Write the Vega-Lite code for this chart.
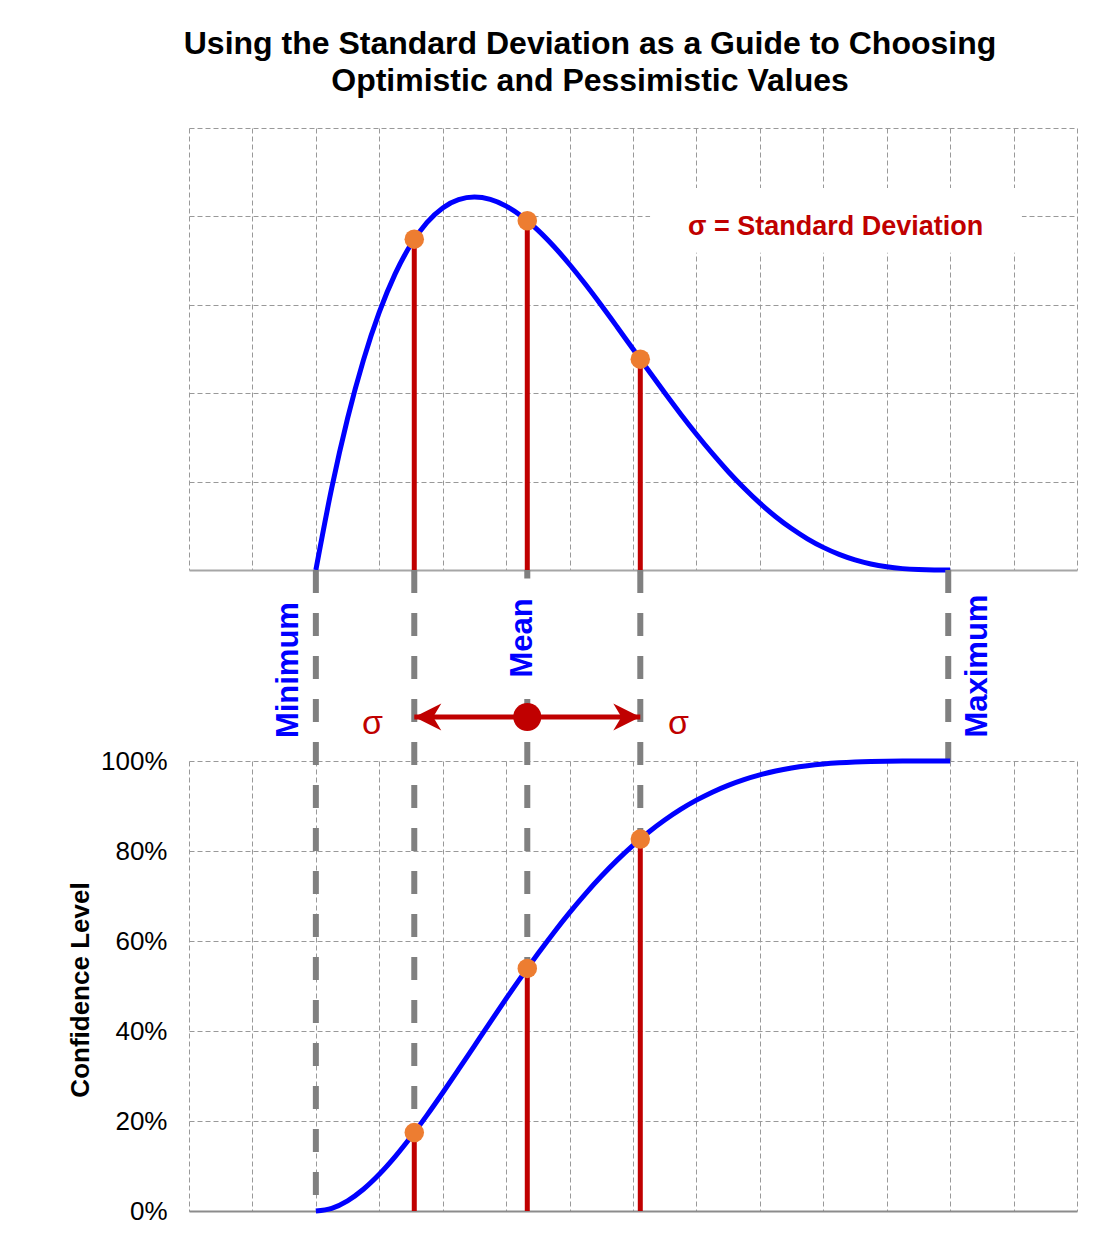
{
  "$schema": "https://vega.github.io/schema/vega-lite/v6.json",
  "background": "white",
  "padding": {"left": 67, "top": 28, "right": 31, "bottom": 39},
  "title": {
    "text": ["Using the Standard Deviation as a Guide to Choosing", "Optimistic and Pessimistic Values"],
    "font": "Liberation Sans",
    "fontSize": 32,
    "fontWeight": "bold",
    "color": "#000000",
    "lineHeight": 37,
    "anchor": "middle",
    "dx": 18,
    "offset": 30
  },
  "config": {
    "view": {"stroke": null},
    "font": "Liberation Sans",
    "concat": {"spacing": 0}
  },
  "spacing": 0,
  "bounds": "flush",
  "datasets": {
    "pdf": [
      {"x": 2.0, "density": 0},
      {"x": 2.25, "density": 0.46343},
      {"x": 2.5, "density": 0.857375},
      {"x": 2.75, "density": 1.18718},
      {"x": 3.0, "density": 1.458},
      {"x": 3.25, "density": 1.674805},
      {"x": 3.5, "density": 1.842375},
      {"x": 3.75, "density": 1.965306},
      {"x": 4.0, "density": 2.048},
      {"x": 4.25, "density": 2.094678},
      {"x": 4.5, "density": 2.109375},
      {"x": 4.75, "density": 2.095929},
      {"x": 5.0, "density": 2.058},
      {"x": 5.25, "density": 1.999056},
      {"x": 5.5, "density": 1.922375},
      {"x": 5.75, "density": 1.831055},
      {"x": 6.0, "density": 1.728},
      {"x": 6.25, "density": 1.61593},
      {"x": 6.5, "density": 1.497375},
      {"x": 6.75, "density": 1.374681},
      {"x": 7.0, "density": 1.25},
      {"x": 7.25, "density": 1.125306},
      {"x": 7.5, "density": 1.002375},
      {"x": 7.75, "density": 0.882809},
      {"x": 8.0, "density": 0.768},
      {"x": 8.25, "density": 0.65918},
      {"x": 8.5, "density": 0.557375},
      {"x": 8.75, "density": 0.46343},
      {"x": 9.0, "density": 0.378},
      {"x": 9.25, "density": 0.301556},
      {"x": 9.5, "density": 0.234375},
      {"x": 9.75, "density": 0.176555},
      {"x": 10.0, "density": 0.128},
      {"x": 10.25, "density": 0.08843},
      {"x": 10.5, "density": 0.057375},
      {"x": 10.75, "density": 0.03418},
      {"x": 11.0, "density": 0.018},
      {"x": 11.25, "density": 0.007805},
      {"x": 11.5, "density": 0.002375},
      {"x": 11.75, "density": 0.000305},
      {"x": 12.0, "density": 0}
    ],
    "cdf": [
      {"x": 2.0, "confidence": 0},
      {"x": 2.25, "confidence": 0.005943},
      {"x": 2.5, "confidence": 0.022593},
      {"x": 2.75, "confidence": 0.048278},
      {"x": 3.0, "confidence": 0.08146},
      {"x": 3.25, "confidence": 0.120727},
      {"x": 3.5, "confidence": 0.16479},
      {"x": 3.75, "confidence": 0.212475},
      {"x": 4.0, "confidence": 0.26272},
      {"x": 4.25, "confidence": 0.314575},
      {"x": 4.5, "confidence": 0.367188},
      {"x": 4.75, "confidence": 0.419808},
      {"x": 5.0, "confidence": 0.47178},
      {"x": 5.25, "confidence": 0.522534},
      {"x": 5.5, "confidence": 0.571586},
      {"x": 5.75, "confidence": 0.61853},
      {"x": 6.0, "confidence": 0.66304},
      {"x": 6.25, "confidence": 0.704855},
      {"x": 6.5, "confidence": 0.743783},
      {"x": 6.75, "confidence": 0.77969},
      {"x": 7.0, "confidence": 0.8125},
      {"x": 7.25, "confidence": 0.842188},
      {"x": 7.5, "confidence": 0.868781},
      {"x": 7.75, "confidence": 0.892337},
      {"x": 8.0, "confidence": 0.91296},
      {"x": 8.25, "confidence": 0.930786},
      {"x": 8.5, "confidence": 0.945977},
      {"x": 8.75, "confidence": 0.958721},
      {"x": 9.0, "confidence": 0.96922},
      {"x": 9.25, "confidence": 0.977695},
      {"x": 9.5, "confidence": 0.984375},
      {"x": 9.75, "confidence": 0.989492},
      {"x": 10.0, "confidence": 0.99328},
      {"x": 10.25, "confidence": 0.995967},
      {"x": 10.5, "confidence": 0.997772},
      {"x": 10.75, "confidence": 0.998901},
      {"x": 11.0, "confidence": 0.99954},
      {"x": 11.25, "confidence": 0.999851},
      {"x": 11.5, "confidence": 0.99997},
      {"x": 11.75, "confidence": 0.999998},
      {"x": 12.0, "confidence": 1.0}
    ],
    "sigma": [
      {"name": "Mean - σ", "x": 3.5516, "density": 1.87126, "confidence": 0.174374, "base": 0},
      {"name": "Mean", "x": 5.3333, "density": 1.97531, "confidence": 0.539095, "base": 0},
      {"name": "Mean + σ", "x": 7.115, "density": 1.19253, "confidence": 0.826542, "base": 0}
    ],
    "guides": [
      {"name": "Minimum", "x": 2.0, "confidence": 0, "top": 1},
      {"name": "Mean - σ", "x": 3.5516, "confidence": 0.174374, "top": 1},
      {"name": "Mean", "x": 5.3333, "confidence": 0.539095, "top": 1},
      {"name": "Mean + σ", "x": 7.115, "confidence": 0.826542, "top": 1},
      {"name": "Maximum", "x": 11.97, "confidence": 1.0, "top": 1}
    ],
    "guideLabels": [
      {"label": "Minimum", "x": 1.572, "y": 0.476},
      {"label": "Mean", "x": 5.261, "y": 0.644},
      {"label": "Maximum", "x": 12.434, "y": 0.497}
    ],
    "sigmaLabels": [
      {"label": "σ", "x": 2.893, "y": 0.1414},
      {"label": "σ", "x": 7.717, "y": 0.1414}
    ],
    "arrow": [
      {"end": "left", "x": 3.765, "y": 0.2304},
      {"end": "right", "x": 6.902, "y": 0.2304}
    ]
  },
  "vconcat": [
    {
      "width": 888,
      "height": 442,
      "layer": [
        {
          "data": {"name": "pdf"},
          "mark": {"type": "line", "color": "#0000FF", "strokeWidth": 5, "interpolate": "monotone"},
          "encoding": {
            "x": {
              "field": "x", "type": "quantitative",
              "scale": {"domain": [0, 14], "nice": false, "zero": false},
              "axis": {"values": [0,1,2,3,4,5,6,7,8,9,10,11,12,13,14], "grid": true, "gridColor": "#999999", "gridDash": [5, 3], "gridWidth": 1, "labels": false, "ticks": false, "domain": true, "domainColor": "#a6a6a6", "domainWidth": 2, "title": null}
            },
            "y": {
              "field": "density", "type": "quantitative",
              "scale": {"domain": [0, 2.5], "nice": false, "zero": false},
              "axis": {"values": [0.5, 1, 1.5, 2, 2.5], "grid": true, "gridColor": "#999999", "gridDash": [5, 3], "gridWidth": 1, "labels": false, "ticks": false, "domain": false, "title": null}
            }
          }
        },
        {
          "data": {"name": "sigma"},
          "mark": {"type": "rule", "color": "#C00000", "strokeWidth": 5},
          "encoding": {
            "x": {"field": "x", "type": "quantitative"},
            "y": {"field": "density", "type": "quantitative"},
            "y2": {"field": "base"}
          }
        },
        {
          "data": {"name": "sigma"},
          "mark": {"type": "circle", "color": "#ED7D31", "opacity": 1, "size": 380},
          "encoding": {
            "x": {"field": "x", "type": "quantitative"},
            "y": {"field": "density", "type": "quantitative"}
          }
        },
        {
          "data": {"values": [{"x": 7.27, "x2": 13.13, "y": 2.16, "y2": 1.795}]},
          "mark": {"type": "rect", "color": "white", "opacity": 1},
          "encoding": {
            "x": {"field": "x", "type": "quantitative"},
            "x2": {"field": "x2"},
            "y": {"field": "y", "type": "quantitative"},
            "y2": {"field": "y2"}
          }
        },
        {
          "data": {"values": [{"label": "σ = Standard Deviation", "x": 7.867, "y": 1.895}]},
          "mark": {"type": "text", "color": "#C00000", "fontSize": 27, "fontWeight": "bold", "align": "left", "baseline": "alphabetic"},
          "encoding": {
            "x": {"field": "x", "type": "quantitative"},
            "y": {"field": "y", "type": "quantitative"},
            "text": {"field": "label", "type": "nominal"}
          }
        }
      ]
    },
    {
      "width": 888,
      "height": 191,
      "layer": [
        {
          "data": {"name": "guides"},
          "mark": {"type": "rule", "color": "#808080", "strokeWidth": 6, "strokeDash": [23, 20]},
          "encoding": {
            "x": {"field": "x", "type": "quantitative", "scale": {"domain": [0, 14], "nice": false, "zero": false}, "axis": null}
          }
        },
        {
          "data": {"values": [{"x": 4.9, "x2": 5.62, "y": 0.955, "y2": 0.36}]},
          "mark": {"type": "rect", "color": "white", "opacity": 1},
          "encoding": {
            "x": {"field": "x", "type": "quantitative"},
            "x2": {"field": "x2"},
            "y": {"field": "y", "type": "quantitative", "scale": {"domain": [0, 1], "nice": false, "zero": false}, "axis": null},
            "y2": {"field": "y2"}
          }
        },
        {
          "data": {"name": "guideLabels"},
          "mark": {"type": "text", "angle": 270, "fontSize": 31, "fontWeight": "bold", "color": "#0000FF", "align": "center", "baseline": "middle"},
          "encoding": {
            "x": {"field": "x", "type": "quantitative"},
            "y": {"field": "y", "type": "quantitative"},
            "text": {"field": "label", "type": "nominal"}
          }
        },
        {
          "data": {"values": [{"from": 3.5516, "to": 7.115, "y": 0.2304}]},
          "mark": {"type": "rule", "color": "#C00000", "strokeWidth": 5},
          "encoding": {
            "x": {"field": "from", "type": "quantitative"},
            "x2": {"field": "to"},
            "y": {"field": "y", "type": "quantitative"}
          }
        },
        {
          "data": {"name": "arrow"},
          "transform": [{"filter": "datum.end === 'left'"}],
          "mark": {"type": "point", "filled": true, "opacity": 1, "color": "#C00000", "size": 729, "shape": "M-1,0 L1,-1 L0.4,0 L1,1 Z"},
          "encoding": {
            "x": {"field": "x", "type": "quantitative"},
            "y": {"field": "y", "type": "quantitative"}
          }
        },
        {
          "data": {"name": "arrow"},
          "transform": [{"filter": "datum.end === 'right'"}],
          "mark": {"type": "point", "filled": true, "opacity": 1, "color": "#C00000", "size": 729, "shape": "M1,0 L-1,-1 L-0.4,0 L-1,1 Z"},
          "encoding": {
            "x": {"field": "x", "type": "quantitative"},
            "y": {"field": "y", "type": "quantitative"}
          }
        },
        {
          "data": {"values": [{"name": "Mean", "x": 5.3333, "y": 0.2304}]},
          "mark": {"type": "circle", "color": "#C00000", "opacity": 1, "size": 784},
          "encoding": {
            "x": {"field": "x", "type": "quantitative"},
            "y": {"field": "y", "type": "quantitative"}
          }
        },
        {
          "data": {"name": "sigmaLabels"},
          "mark": {"type": "text", "fontSize": 34, "color": "#C00000", "align": "center", "baseline": "alphabetic"},
          "encoding": {
            "x": {"field": "x", "type": "quantitative"},
            "y": {"field": "y", "type": "quantitative"},
            "text": {"field": "label", "type": "nominal"}
          }
        }
      ]
    },
    {
      "width": 888,
      "height": 450,
      "layer": [
        {
          "data": {"name": "guides"},
          "mark": {"type": "rule", "color": "#808080", "strokeWidth": 6, "strokeDash": [23, 20], "strokeDashOffset": 19},
          "encoding": {
            "x": {
              "field": "x", "type": "quantitative",
              "scale": {"domain": [0, 14], "nice": false, "zero": false},
              "axis": {"values": [0,1,2,3,4,5,6,7,8,9,10,11,12,13,14], "grid": true, "gridColor": "#999999", "gridDash": [5, 3], "gridWidth": 1, "labels": false, "ticks": false, "domain": true, "domainColor": "#8c8c8c", "domainWidth": 2, "title": null}
            },
            "y": {
              "field": "top", "type": "quantitative",
              "scale": {"domain": [0, 1], "nice": false, "zero": false},
              "axis": {
                "values": [0, 0.2, 0.4, 0.6, 0.8, 1],
                "format": ".0%",
                "grid": true, "gridColor": "#999999", "gridDash": [5, 3], "gridWidth": 1,
                "ticks": false, "domain": false,
                "labelFontSize": 26, "labelColor": "#000000", "labelPadding": 22, "labelFont": "Liberation Sans",
                "title": "Confidence Level", "titleFontSize": 26, "titleFontWeight": "bold", "titleColor": "#000000", "titleFont": "Liberation Sans",
                "titleAngle": 270, "titleX": -109, "titleY": 228.5, "titleAlign": "center", "titleBaseline": "middle"
              }
            },
            "y2": {"field": "confidence"}
          }
        },
        {
          "data": {"name": "cdf"},
          "mark": {"type": "line", "color": "#0000FF", "strokeWidth": 5, "interpolate": "monotone"},
          "encoding": {
            "x": {"field": "x", "type": "quantitative"},
            "y": {"field": "confidence", "type": "quantitative"}
          }
        },
        {
          "data": {"name": "sigma"},
          "mark": {"type": "rule", "color": "#C00000", "strokeWidth": 5},
          "encoding": {
            "x": {"field": "x", "type": "quantitative"},
            "y": {"field": "confidence", "type": "quantitative"},
            "y2": {"field": "base"}
          }
        },
        {
          "data": {"name": "sigma"},
          "mark": {"type": "circle", "color": "#ED7D31", "opacity": 1, "size": 380},
          "encoding": {
            "x": {"field": "x", "type": "quantitative"},
            "y": {"field": "confidence", "type": "quantitative"}
          }
        }
      ]
    }
  ]
}
